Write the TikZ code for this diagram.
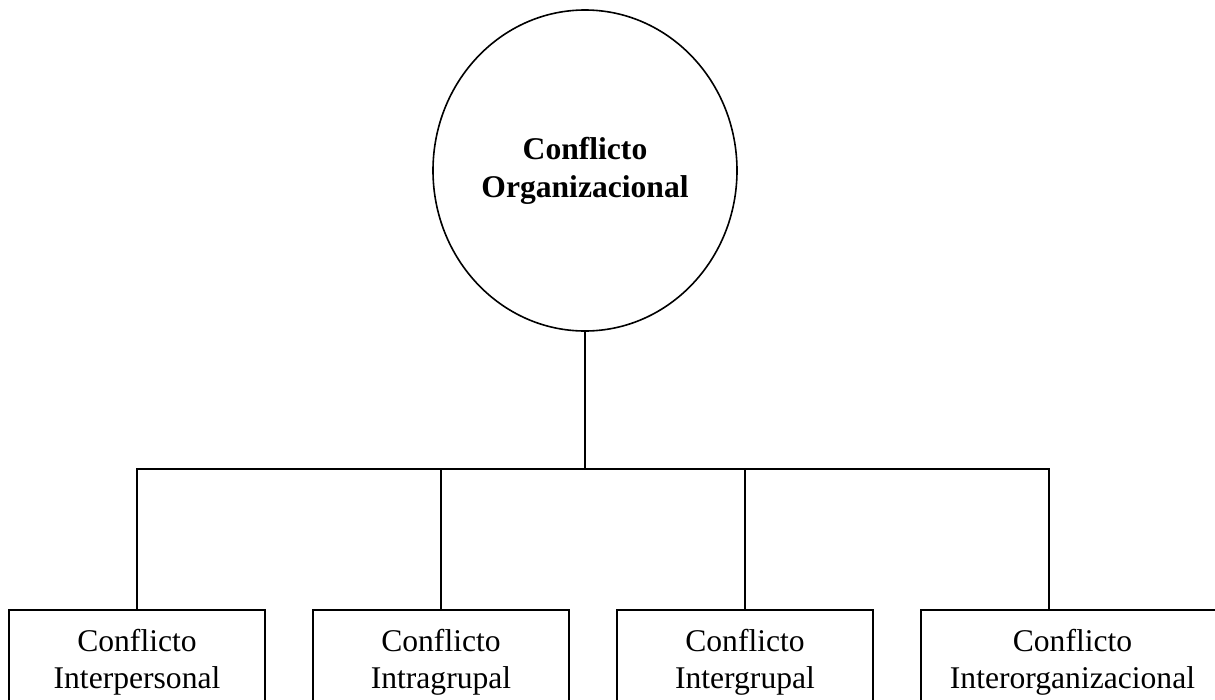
\documentclass[tikz,border=0pt]{standalone}
\usepackage{fontspec}
\setmainfont{Liberation Serif}
\usetikzlibrary{shapes.geometric}
\begin{document}
\begin{tikzpicture}[x=0.75pt,y=-0.75pt,
  line/.style={draw=black,line width=1.2pt},
  rootnode/.style={ellipse,line,minimum width=304*0.75pt,minimum height=321*0.75pt,inner sep=0pt,align=center,
     font=\fontsize{23.7}{28.5}\selectfont\bfseries},
  leaf/.style={rectangle,line,anchor=north,minimum height=104*0.75pt,inner sep=0pt,align=center,
     font=\fontsize{23.7}{27.75}\selectfont}]
\clip (0,0) rectangle (1215,700);
\fill[white] (0,0) rectangle (1215,700);
\node[rootnode] (root) at (585,170.5) {Conflicto\\Organizacional};
\node[leaf,minimum width=256*0.75pt] (b1) at (137,609) {Conflicto\\Interpersonal};
\node[leaf,minimum width=256*0.75pt] (b2) at (441,609) {Conflicto\\Intragrupal};
\node[leaf,minimum width=256*0.75pt] (b3) at (745,609) {Conflicto\\Intergrupal};
\node[leaf,minimum width=303*0.75pt] (b4) at (1072.5,609) {Conflicto\\Interorganizacional};
\coordinate (hub) at (585,469);
\coordinate (k4) at (1049,609);
\draw[line] (root.south) -- (hub);
\draw[line] (b1.north) |- (hub);
\draw[line] (b2.north) |- (hub);
\draw[line] (b3.north) |- (hub);
\draw[line] (k4) |- (hub);
\end{tikzpicture}
\end{document}
